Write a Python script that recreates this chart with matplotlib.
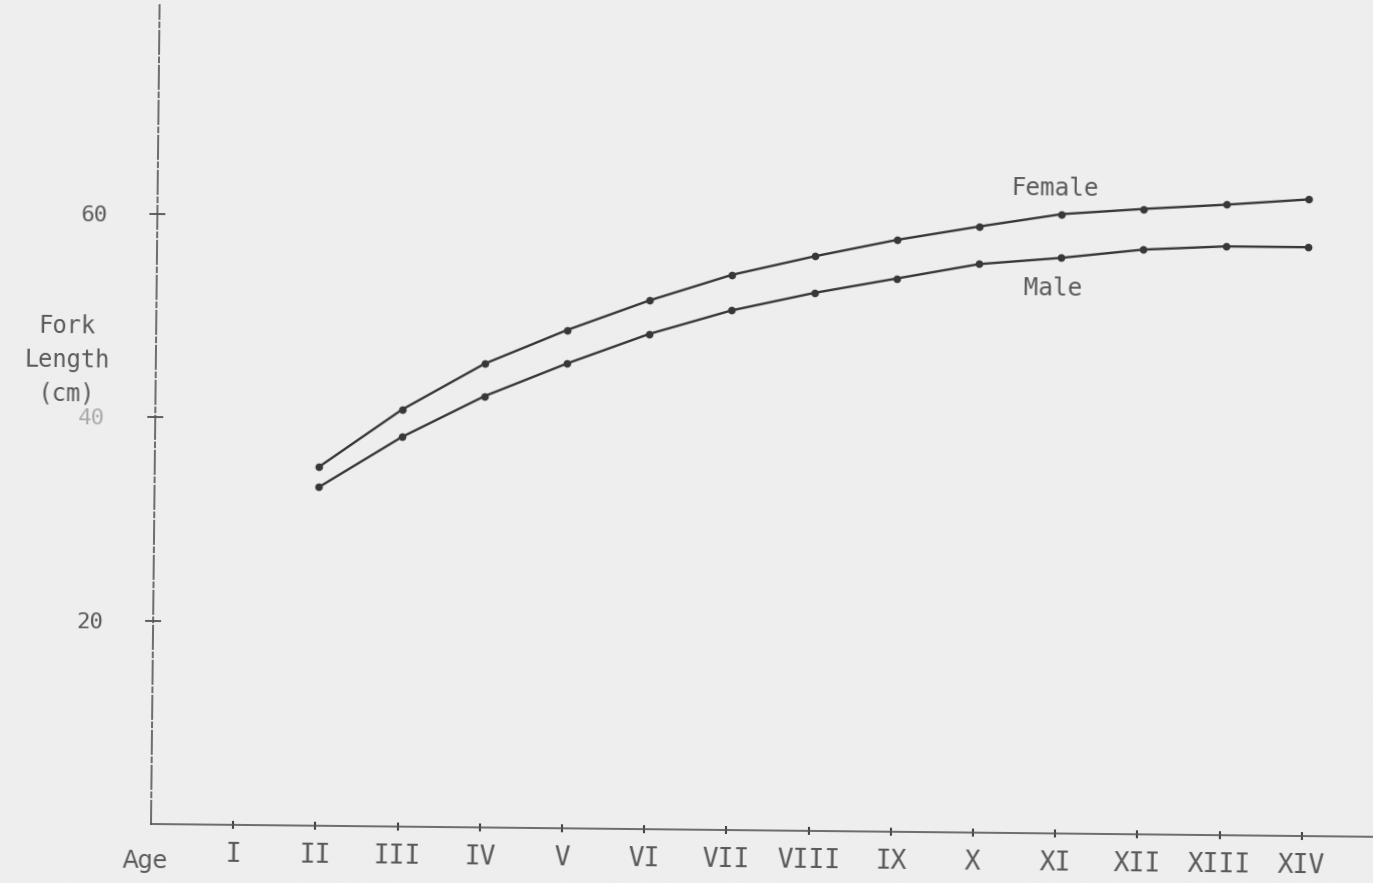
import matplotlib
matplotlib.use("Agg")
import matplotlib.pyplot as plt
import numpy as np

# Age classes and mean fork length (cm)
ages = list(range(1, 15))
age_labels = ["I", "II", "III", "IV", "V", "VI", "VII", "VIII", "IX", "X",
              "XI", "XII", "XIII", "XIV"]

female_ages = [2, 3, 4, 5, 6, 7, 8, 9, 10, 11, 12, 13, 14]
female_len = [35.3, 41.0, 45.6, 49.0, 52.0, 54.6, 56.5, 58.2, 59.6, 60.9, 61.5, 62.0, 62.6]

male_ages = [2, 3, 4, 5, 6, 7, 8, 9, 10, 11, 12, 13, 14]
male_len = [33.3, 38.3, 42.4, 45.7, 48.7, 51.1, 52.9, 54.4, 55.9, 56.6, 57.5, 57.9, 57.9]

y_ticks = [20, 40, 60]

BG = "#eeeeee"
INK = "#383838"
TXT = "#5a5a5a"
MONO = ["DejaVu Sans Mono"]

W, H = 1373, 883
CX, CY = 151, 824          # axes origin in pixels (y measured from top)
PX_X, PX_Y = 82.2, 10.17   # pixels per age class / per cm

fig = plt.figure(figsize=(W / 100, H / 100), dpi=100, facecolor=BG)
y_top = 80.5
ax = fig.add_axes([CX / W, 1 - CY / H, (W - CX) / W, y_top * PX_Y / H])
ax.set_facecolor(BG)

ax.plot(female_ages, female_len, color=INK, lw=1.7, marker="o", ms=4.5,
        mfc=INK, mec=INK, zorder=3)
ax.plot(male_ages, male_len, color=INK, lw=1.7, marker="o", ms=4.5,
        mfc=INK, mec=INK, zorder=3)

ax.text(10.91, 63.4, "Female", fontsize=17.5, color=TXT, family=MONO,
        ha="center", va="center")
ax.text(10.90, 53.6, "Male", fontsize=17.5, color=TXT, family=MONO,
        ha="center", va="center")

ax.set_xlim(0, (W - CX) / PX_X)
ax.set_ylim(0, y_top)

for side in ("top", "right"):
    ax.spines[side].set_visible(False)
for side in ("left", "bottom"):
    ax.spines[side].set_color("#555555")
    ax.spines[side].set_linewidth(1.2)
ax.spines["left"].set_linestyle((0, (14, 2, 3, 2)))

ax.set_xticks(ages)
ax.set_xticklabels(age_labels, family=MONO, fontsize=19, color=TXT)
ax.set_yticks(y_ticks)
ax.set_yticklabels([str(v) for v in y_ticks], family=MONO, fontsize=16, color=TXT)
ax.tick_params(axis="x", direction="inout", length=6, width=1.5, color="#444444", pad=9)
ax.tick_params(axis="y", direction="inout", length=12, width=1.2, color="#444444", pad=30)
ax.get_yticklabels()[1].set_alpha(0.45)

fig.text(146 / W, 1 - 861 / H, "Age", fontsize=17, color=TXT,
         ha="center", va="center", family=["DejaVu Sans"])
fig.text(62 / W, 1 - 361 / H, "Fork\nLength\n(cm)", fontsize=17, color=TXT,
         ha="center", va="center", family=MONO, linespacing=1.5)

# Render, then turn the whole sheet slightly clockwise about the axes origin
fig.canvas.draw()
img = np.asarray(fig.canvas.buffer_rgba()).astype(float) / 255.0
h, w = img.shape[:2]
theta = np.deg2rad(0.6)
c, s = np.cos(theta), np.sin(theta)
yy, xx = np.mgrid[0:h, 0:w].astype(float)
dx, dy = xx - CX, yy - CY
sx = CX + dx * c + dy * s
sy = CY - dx * s + dy * c

x0 = np.floor(sx).astype(int)
y0 = np.floor(sy).astype(int)
fx = (sx - x0)[..., None]
fy = (sy - y0)[..., None]
bg = np.array(matplotlib.colors.to_rgba(BG))


def sample(ix, iy):
    ok = (ix >= 0) & (ix < w) & (iy >= 0) & (iy < h)
    out = np.empty((h, w, 4))
    out[:] = bg
    out[ok] = img[iy[ok], ix[ok]]
    return out


rot = (sample(x0, y0) * (1 - fx) * (1 - fy) + sample(x0 + 1, y0) * fx * (1 - fy)
       + sample(x0, y0 + 1) * (1 - fx) * fy + sample(x0 + 1, y0 + 1) * fx * fy)
rot[..., 3] = 1.0
plt.imsave("out.png", np.clip(rot, 0, 1))
